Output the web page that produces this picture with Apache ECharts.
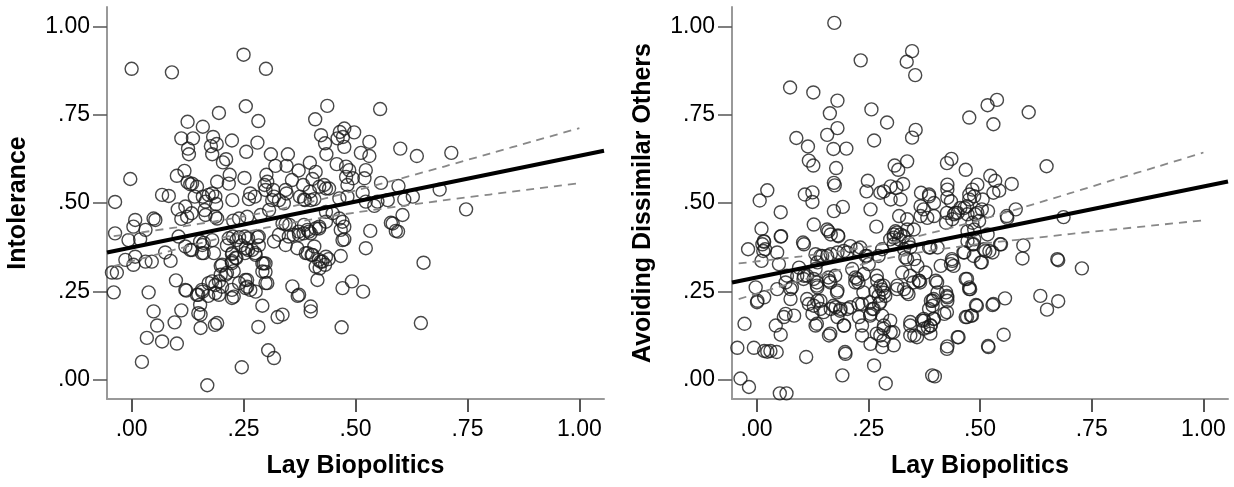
<!DOCTYPE html>
<html>
<head>
<meta charset="utf-8">
<script src="https://cdn.jsdelivr.net/npm/echarts@6/dist/echarts.min.js"></script>
<style>
  html, body { margin: 0; padding: 0; background: #fff; }
  #chart { width: 1234px; height: 487px; }
</style>
</head>
<body>
<div id="chart"></div>
<script>
// tick positions (both axes, both panels)
var tickValues = [0, 0.25, 0.5, 0.75, 1];

// panel 1: Lay Biopolitics vs Intolerance
var intolerancePts = [
  [0.00,0.88],[0.09,0.87],[0.25,0.92],[0.30,0.88],
  [0.255,0.774],[0.195,0.755],[0.125,0.73],[0.159,0.716],[0.283,0.732],[0.41,0.737],[0.437,0.775],[0.555,0.766],
  [0.111,0.683],[0.137,0.683],[0.182,0.687],[0.224,0.677],[0.281,0.671],[0.126,0.654],[0.128,0.638],[0.177,0.661],[0.19,0.667],[0.18,0.638],[0.256,0.645],[0.211,0.624],[0.204,0.615],[0.311,0.638],[0.349,0.638],[0.423,0.692],[0.321,0.605],[0.346,0.605],[0.398,0.614],[0.373,0.592],
  [0.465,0.701],[0.475,0.711],[0.497,0.70],[0.46,0.683],[0.472,0.687],[0.432,0.669],[0.475,0.659],[0.531,0.673],[0.435,0.638],[0.512,0.642],[0.531,0.633],[0.60,0.654],[0.637,0.633],[0.714,0.642],
  [0.458,0.61],[0.479,0.603],[0.486,0.593],[0.523,0.593],[0.411,0.588],[0.479,0.574],[0.494,0.57],[0.52,0.57],[0.43,0.551],[0.441,0.541],[0.482,0.551],[0.557,0.557],[0.596,0.548],[0.688,0.538],
  [0.40,0.508],[0.464,0.513],[0.482,0.518],[0.516,0.529],[0.523,0.504],[0.542,0.492],[0.549,0.504],[0.572,0.508],[0.609,0.51],[0.628,0.518],[0.605,0.466],[0.747,0.482],[0.579,0.444],[0.59,0.421],[0.533,0.421],[0.471,0.447],[0.467,0.424],[0.475,0.397],[0.434,0.475],[0.449,0.471],[0.419,0.428],[0.396,0.419],[0.523,0.372],[0.408,0.377],
  [0.118,0.591],[0.101,0.577],[-0.003,0.568],[0.125,0.559],[0.131,0.553],[0.191,0.56],[0.219,0.58],[0.217,0.555],[0.252,0.571],[0.301,0.58],[0.303,0.56],[0.297,0.551],[0.316,0.537],[0.346,0.527],[0.358,0.565],[0.404,0.568],[0.383,0.551],[0.398,0.532],
  [0.068,0.523],[0.083,0.52],[0.141,0.518],[0.159,0.518],[0.172,0.523],[0.187,0.518],[0.165,0.504],[0.189,0.497],[0.225,0.508],[0.262,0.511],[0.265,0.527],[0.275,0.518],[0.314,0.508],[0.34,0.499],[0.385,0.51],[0.408,0.511],[-0.037,0.503],
  [0.103,0.482],[0.111,0.455],[0.134,0.471],[0.163,0.48],[0.187,0.461],[0.227,0.45],[0.24,0.456],[0.258,0.461],[0.288,0.466],[0.307,0.48],[0.008,0.452],[0.004,0.433],[0.031,0.424],[0.049,0.456],[0.053,0.452],[-0.037,0.414],[-0.007,0.395],[0.019,0.397],[0.217,0.40],[0.24,0.403],[0.281,0.403],[0.329,0.41],[0.374,0.41],[0.40,0.414],[0.344,0.441],
  [-0.014,0.339],[0.008,0.348],[0.004,0.325],[0.031,0.334],[0.045,0.334],[0.075,0.36],[0.087,0.336],[-0.044,0.303],[-0.033,0.303],[-0.04,0.247],[0.038,0.247],[0.099,0.281],[0.122,0.252],[0.135,0.367],[0.158,0.381],[0.161,0.358],[0.184,0.358],[0.146,0.24],[0.158,0.249],[0.171,0.237],[0.18,0.278],[0.195,0.278],[0.195,0.24],[0.21,0.297],[0.199,0.322],[0.224,0.33],[0.234,0.344],[0.225,0.358],[0.228,0.235],[0.24,0.273],[0.255,0.259],[0.258,0.282],[0.255,0.372],[0.269,0.367],[0.277,0.353],[0.284,0.405],[0.292,0.329],[0.299,0.329],[0.292,0.306],[0.299,0.273],[0.277,0.249],[0.292,0.209],[0.318,0.391],[0.344,0.381],[0.359,0.264],[0.371,0.237],[0.40,0.207],[0.40,0.193],
  [0.049,0.193],[0.057,0.153],[0.096,0.162],[0.111,0.196],[0.154,0.184],[0.154,0.146],[0.186,0.155],[0.191,0.16],[0.034,0.118],[0.068,0.108],[0.101,0.102],[0.023,0.05],[0.246,0.035],[0.169,-0.016],[0.283,0.149],[0.305,0.083],[0.318,0.061],[0.326,0.177],[0.337,0.184],
  [0.393,0.358],[0.402,0.353],[0.411,0.32],[0.415,0.282],[0.37,0.372],
  [0.422,0.334],[0.42,0.315],[0.44,0.341],[0.467,0.35],[0.652,0.331],[0.471,0.259],[0.492,0.278],[0.517,0.249],[0.469,0.148],[0.646,0.16],[0.374,0.24],
  [0.135,0.555],[0.146,0.546],[0.18,0.527],[0.299,0.537],[0.318,0.518],[0.329,0.508],[0.344,0.537],[0.376,0.518],[0.387,0.508],[0.419,0.546],[0.434,0.541],[0.12,0.49],[0.124,0.461],[0.165,0.466],[0.191,0.456],[0.337,0.442],[0.352,0.438],[0.385,0.438],[0.393,0.424],[0.411,0.428],[0.464,0.456],[0.475,0.433],[0.471,0.395],[0.583,0.442],[0.595,0.419],
  [0.389,0.358],[0.404,0.353],[0.418,0.339],[0.426,0.334],[0.432,0.325],[0.434,0.348],
  [0.245,0.38],[0.253,0.358],[0.26,0.367],[0.276,0.358],[0.284,0.38],
  [0.213,0.38],[0.224,0.355],[0.232,0.345],[0.224,0.335],
  [0.161,0.387],[0.157,0.358],[0.295,0.329],[0.299,0.305],
  [0.202,0.325],[0.199,0.297],[0.213,0.302],[0.228,0.307],
  [0.172,0.273],[0.187,0.268],[0.202,0.263],[0.224,0.254],[0.254,0.282],[0.258,0.263],[0.265,0.254],[0.303,0.273],
  [0.12,0.254],[0.157,0.254],[0.149,0.24],[0.187,0.245],[0.224,0.231],
  [0.351,0.405],[0.362,0.41],[0.373,0.419],[0.384,0.414],[0.419,0.433],[0.434,0.447],
  [0.226,0.405],[0.234,0.395],[0.253,0.405],[0.26,0.4],[0.153,0.391],[0.18,0.395],
  [0.12,0.377],[0.131,0.367],[0.105,0.405],[0.153,0.212],[0.149,0.188]
];
var intoleranceFit = [[-0.055,0.360],[1.055,0.648]];
var intoleranceUpper = [[-0.04,0.406],[0.1,0.431],[0.2,0.451],[0.3,0.474],[0.4,0.503],[0.5,0.535],[0.6,0.569],[0.7,0.604],[0.8,0.640],[0.9,0.676],[1.0,0.712]];
var intoleranceLower = [[-0.04,0.321],[0.1,0.369],[0.2,0.401],[0.3,0.430],[0.4,0.453],[0.5,0.473],[0.6,0.491],[0.7,0.508],[0.8,0.524],[0.9,0.540],[1.0,0.556]];

// panel 2: Lay Biopolitics vs Avoiding Dissimilar Others
var avoidingPts = [
  [0.174,1.01],[0.233,0.904],[0.336,0.90],[0.348,0.93],[0.355,0.862],[0.075,0.827],[0.127,0.813],[0.181,0.79],[0.164,0.754],[0.257,0.765],[0.292,0.728],[0.181,0.712],[0.158,0.693],[0.089,0.684],[0.263,0.677],[0.356,0.707],[0.348,0.685],[0.115,0.66],[0.172,0.653],[0.201,0.654],[0.117,0.62],[0.127,0.606],[0.178,0.599],[0.309,0.606],[0.317,0.594],[0.337,0.618],[0.173,0.557],[0.175,0.55],[0.249,0.563],[0.246,0.533],[0.285,0.533],[0.30,0.547],[0.313,0.543],[0.328,0.554],[0.30,0.51],[0.322,0.51],[0.368,0.529],[0.386,0.519],[0.367,0.491],[0.397,0.50],[0.024,0.536],[0.007,0.507],[0.108,0.524],[0.125,0.53],[0.125,0.503],[0.193,0.489],[0.173,0.477],[0.255,0.482],[0.054,0.474],[0.128,0.439],[0.268,0.433],[0.319,0.463],[0.337,0.454],[0.367,0.463],[0.382,0.458],[0.397,0.463],[0.158,0.425],[0.182,0.408],[0.011,0.427],[0.017,0.39],[0.054,0.405],[0.104,0.388],[0.311,0.42],[0.322,0.411],[0.337,0.425],[0.352,0.425],[0.307,0.402],[-0.019,0.369],
  [0.538,0.792],[0.517,0.777],[0.476,0.742],[0.53,0.723],[0.609,0.757],[0.436,0.625],[0.426,0.613],[0.468,0.594],[0.649,0.604],[0.523,0.577],[0.534,0.563],[0.571,0.554],[0.427,0.552],[0.427,0.538],[0.483,0.538],[0.494,0.552],[0.476,0.524],[0.53,0.529],[0.543,0.535],[0.386,0.524],[0.427,0.515],[0.435,0.505],[0.476,0.51],[0.487,0.519],[0.506,0.51],[0.518,0.477],[0.58,0.482],[0.561,0.458],[0.687,0.46],[0.45,0.472],[0.465,0.486],[0.472,0.468],[0.424,0.444],[0.438,0.454],[0.442,0.468],[0.494,0.472],[0.498,0.449],[0.483,0.444],[0.472,0.42],[0.487,0.425],[0.517,0.411],[0.487,0.397],[0.547,0.383],[0.597,0.38],[0.472,0.392],
  [0.595,0.343],[0.673,0.341],[0.675,0.338],[0.728,0.315],[0.521,0.364],[0.509,0.369],[0.528,0.36],[0.483,0.383],[0.465,0.36],[0.502,0.332],[0.438,0.336],[0.435,0.327],[0.412,0.322],[0.386,0.374],[0.405,0.374],[0.353,0.341],[0.364,0.28],[0.401,0.28],[0.405,0.247],[0.394,0.223],[0.394,0.209],[0.39,0.153],[0.424,0.247],[0.427,0.233],[0.427,0.223],[0.42,0.186],[0.375,0.167],[0.383,0.148],[0.353,0.125],[0.468,0.285],[0.476,0.261],[0.476,0.256],[0.491,0.211],[0.48,0.181],[0.468,0.177],[0.528,0.211],[0.556,0.23],[0.45,0.12],[0.427,0.094],[0.518,0.095],[0.553,0.127],[0.399,0.009],[0.635,0.237],[0.65,0.198],[0.675,0.222],
  [0.013,0.383],[0.015,0.364],[0.011,0.336],[0.05,0.327],[-0.002,0.261],[0.002,0.223],[0.017,0.233],[0.046,0.256],[0.076,0.256],[0.076,0.228],[0.065,0.186],[0.084,0.181],[0.061,0.177],[-0.027,0.158],[0.043,0.153],[0.054,0.127],[-0.043,0.09],[-0.006,0.09],[0.017,0.081],[0.031,0.081],[0.045,0.078],[0.024,0.079],[0.111,0.064],[-0.036,0.003],[-0.017,-0.021],[0.052,-0.039],[0.067,-0.039],
  [0.106,0.383],[0.132,0.355],[0.136,0.332],[0.147,0.35],[0.166,0.355],[0.181,0.36],[0.203,0.36],[0.225,0.369],[0.091,0.294],[0.106,0.294],[0.132,0.313],[0.128,0.285],[0.162,0.28],[0.181,0.252],[0.136,0.261],[0.136,0.223],[0.117,0.214],[0.143,0.2],[0.125,0.186],[0.166,0.2],[0.177,0.205],[0.188,0.2],[0.203,0.2],[0.181,0.177],[0.196,0.153],[0.132,0.153],[0.162,0.125],[0.199,0.073],[0.192,0.012],
  [0.214,0.313],[0.225,0.285],[0.221,0.275],[0.24,0.299],[0.251,0.327],[0.244,0.35],[0.236,0.214],[0.229,0.177],[0.255,0.186],[0.259,0.2],[0.236,0.125],[0.255,0.101],[0.263,0.04],
  [0.27,0.28],[0.277,0.265],[0.281,0.255],[0.285,0.246],[0.266,0.25],[0.277,0.22],[0.288,0.237],[0.274,0.214],
  [0.285,0.153],[0.30,0.134],[0.277,0.125],[0.281,0.092],[0.307,0.097],[0.289,-0.011],
  [0.315,0.266],[0.33,0.256],[0.34,0.242],[0.326,0.303],[0.337,0.341],[0.344,0.294],[0.363,0.28],[0.36,0.322],[0.33,0.369],[0.307,0.383],[0.319,0.397],[0.307,0.411],[0.344,0.153],[0.344,0.125],[0.374,0.172],[0.374,0.144],[0.386,0.2],[0.39,0.223],[0.397,0.172],[0.393,0.012],[0.378,0.303],
  [0.166,0.411],[0.183,0.406],[0.046,0.36],[0.095,0.317],[0.065,0.275],
  [0.277,0.529],[0.374,0.482],[0.426,0.472],[0.445,0.472],[0.456,0.486],[0.471,0.491],[0.489,0.468],[0.504,0.482],[0.56,0.463],
  [0.143,0.35],[0.158,0.35],[0.195,0.364],[0.21,0.378],[0.232,0.374],[0.247,0.35],[0.273,0.35],[0.281,0.369],[0.299,0.397],[0.314,0.416],[0.329,0.406],[0.34,0.388],[0.344,0.374],[0.333,0.346],[0.389,0.374],[0.437,0.341],[0.441,0.322],[0.463,0.36],[0.486,0.383],[0.486,0.35],[0.512,0.364],[0.504,0.332],[0.545,0.383],
  [0.105,0.285],[0.135,0.266],[0.165,0.275],[0.18,0.247],[0.221,0.289],[0.228,0.275],[0.269,0.294],[0.284,0.266],[0.273,0.237],[0.314,0.256],[0.336,0.247],[0.351,0.275],[0.366,0.275],[0.404,0.275],[0.396,0.228],[0.426,0.237],[0.471,0.285],[0.478,0.256],[0.493,0.209],[0.53,0.214],
  [0.113,0.228],[0.128,0.209],[0.143,0.223],[0.15,0.191],[0.172,0.209],[0.187,0.195],[0.21,0.205],[0.228,0.214],[0.239,0.247],[0.254,0.219],[0.262,0.2],[0.254,0.181],[0.281,0.181],[0.299,0.167],[0.306,0.134],[0.236,0.153],[0.195,0.153],[0.165,0.13],[0.135,0.158],
  [0.344,0.163],[0.37,0.167],[0.389,0.153],[0.396,0.172],[0.426,0.191],[0.452,0.12],[0.426,0.087],[0.471,0.177],[0.482,0.181],[0.519,0.092],[0.198,0.078],
  [0.269,0.13],[0.284,0.111],[0.284,0.144],[0.359,0.12],[0.389,0.13],
  [0.016,0.392],[0.019,0.369],[0.055,0.406],[0.001,0.219],[0.079,0.261],[0.161,0.42],[0.068,0.294],[0.113,0.294],[0.135,0.275],[0.161,0.289],[0.176,0.294]
];
var avoidingFit = [[-0.055,0.275],[1.055,0.561]];
var avoidingUpper = [[-0.04,0.329],[0.1,0.349],[0.2,0.366],[0.3,0.388],[0.4,0.418],[0.5,0.452],[0.6,0.489],[0.7,0.527],[0.8,0.566],[0.9,0.604],[1.0,0.643]];
var avoidingLower = [[-0.04,0.228],[0.1,0.281],[0.2,0.315],[0.3,0.345],[0.4,0.367],[0.5,0.384],[0.6,0.398],[0.7,0.412],[0.8,0.425],[0.9,0.438],[1.0,0.451]];

var FONT = 'Liberation Sans, Arial, sans-serif';

function fmtTick(v) {
    if (v >= 1) return '1.00';
    return v.toFixed(2).replace(/^0/, '');
}

function makeAxis(idx, isX, name) {
    return {
        type: 'value',
        gridIndex: idx,
        min: -0.055,
        max: 1.055,
        name: name,
        nameLocation: 'middle',
        nameGap: isX ? 55 : 76,
        nameTextStyle: { fontFamily: FONT, fontWeight: 'bold', fontSize: 25, color: '#000' },
        splitLine: { show: false },
        axisLine: { show: true, onZero: false, lineStyle: { color: '#999', width: 2 } },
        axisTick: { show: true, customValues: tickValues, length: isX ? 13 : 14, lineStyle: { color: '#555', width: isX ? 2 : 1.5 } },
        axisLabel: { customValues: tickValues, formatter: fmtTick, fontFamily: FONT, fontSize: 23, color: '#000', margin: isX ? 19 : 17 }
    };
}

function pointsSeries(idx, data) {
    return {
        type: 'scatter', xAxisIndex: idx, yAxisIndex: idx, data: data,
        symbol: 'circle', symbolSize: 13,
        itemStyle: { color: 'rgba(0,0,0,0)', borderColor: '#1a1a1a', borderWidth: 1.4 },
        z: 2
    };
}

function lineSeries(idx, data, dashed) {
    return {
        type: 'line', xAxisIndex: idx, yAxisIndex: idx, data: data,
        showSymbol: false, smooth: dashed ? 0.3 : false,
        lineStyle: dashed ? { color: '#888', width: 1.8, type: [8, 6] } : { color: '#000', width: 4 },
        z: dashed ? 3 : 4
    };
}

var chart = echarts.init(document.getElementById('chart'));
chart.setOption({
    animation: false,
    backgroundColor: '#fff',
    grid: [
        { left: 107, right: 630, top: 7, bottom: 88 },
        { left: 732, right: 6, top: 7, bottom: 88 }
    ],
    xAxis: [makeAxis(0, true, 'Lay Biopolitics'), makeAxis(1, true, 'Lay Biopolitics')],
    yAxis: [makeAxis(0, false, 'Intolerance'), makeAxis(1, false, 'Avoiding Dissimilar Others')],
    series: [
        pointsSeries(0, intolerancePts),
        lineSeries(0, intoleranceUpper, true),
        lineSeries(0, intoleranceLower, true),
        lineSeries(0, intoleranceFit, false),
        pointsSeries(1, avoidingPts),
        lineSeries(1, avoidingUpper, true),
        lineSeries(1, avoidingLower, true),
        lineSeries(1, avoidingFit, false)
    ]
});
</script>
</body>
</html>
